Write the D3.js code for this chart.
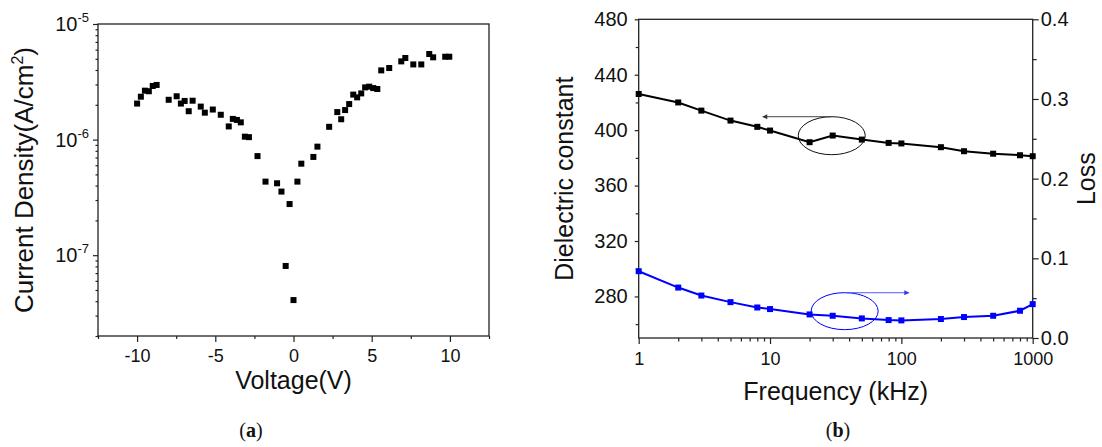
<!DOCTYPE html>
<html>
<head>
<meta charset="utf-8">
<script src="https://cdn.jsdelivr.net/npm/d3@7"></script>
<style>
  body { margin: 0; background: #fff; }
  svg text { font-family: Arial, "Liberation Sans", sans-serif; fill: #111; }
  .frame { fill: none; stroke: #222; stroke-width: 1.3; }
  .tick line { stroke: #222; stroke-width: 1.2; }
  .domain { display: none; }
</style>
</head>
<body>
<svg id="chart" width="1102" height="447"></svg>
<script>
// (a) current density vs voltage
const voltage = [-10.0, -9.76, -9.5, -9.25, -9.0, -8.75, -7.98, -7.47, -7.2, -6.96, -6.7, -6.45,
  -5.93, -5.67, -5.16, -4.65, -4.14, -3.88, -3.62, -3.37, -3.11, -2.85, -2.3, -1.79, -1.05,
  -0.77, -0.25, -0.5, 0.0, 0.25, 0.5, 1.27, 1.53, 2.28, 2.8, 3.05, 3.3, 3.56, 3.82, 4.07,
  4.33, 4.58, 4.84, 5.1, 5.36, 5.61, 6.12, 6.89, 7.15, 7.66, 8.17, 8.68, 8.93, 9.7, 9.96]
const density = [2.05e-6, 2.35e-6, 2.65e-6, 2.62e-6, 2.91e-6, 2.97e-6, 2.21e-6, 2.37e-6, 2.05e-6,
  2.16e-6, 1.76e-6, 2.17e-6, 1.93e-6, 1.71e-6, 1.82e-6, 1.64e-6, 1.30e-6, 1.51e-6, 1.48e-6,
  1.41e-6, 1.06e-6, 1.05e-6, 7.2e-7, 4.33e-7, 4.19e-7, 3.55e-7, 2.77e-7, 8.07e-8, 4.09e-8,
  4.33e-7, 6.19e-7, 7.08e-7, 8.69e-7, 1.29e-6, 1.73e-6, 1.50e-6, 1.80e-6, 2.03e-6, 2.45e-6,
  2.32e-6, 2.51e-6, 2.83e-6, 2.87e-6, 2.79e-6, 2.74e-6, 3.97e-6, 4.16e-6, 4.75e-6, 5.08e-6,
  4.47e-6, 4.47e-6, 5.5e-6, 5.15e-6, 5.21e-6, 5.21e-6]
const voltTicks = [-10, -5, 0, 5, 10]
const voltMinor = [-12.5, -7.5, -2.5, 2.5, 7.5, 12.5]
const densityExp = [-5, -6, -7]

// (b) dielectric constant and loss vs frequency
const freq = [1, 2, 3, 5, 8, 10, 20, 30, 50, 80, 100, 200, 300, 500, 800, 1000]
const dielectric = [426.1, 420.0, 414.1, 406.9, 402.4, 399.7, 391.3, 396.1, 393.2, 390.8,
  390.4, 387.7, 384.8, 383.0, 381.9, 381.2]
const loss = [0.0838, 0.0633, 0.0533, 0.045, 0.0383, 0.0363, 0.0296, 0.0279, 0.0246, 0.0225,
  0.0221, 0.0238, 0.0263, 0.0279, 0.0342, 0.0425]
const freqTicks = [1, 10, 100, 1000]
const dielTicks = [280, 320, 360, 400, 440, 480]
const dielMinor = [260, 300, 340, 380, 420, 460]
const lossTicks = [0, 0.1, 0.2, 0.3, 0.4]
const lossMinor = [0.05, 0.15, 0.25, 0.35]

const svg = d3.select("#chart")

// ---------- panel (a) ----------
const A = {left: 98, top: 24, right: 489, bottom: 336}
const xa = d3.scaleLinear().domain([-12.5, 12.5]).range([A.left, A.right])
const ya = d3.scaleLog().domain([2e-8, 1e-5]).range([A.bottom, A.top])

const ga = svg.append("g")

ga.append("g")
    .attr("transform", `translate(0,${A.bottom})`)
    .call(d3.axisBottom(xa).tickValues(voltMinor).tickSize(3).tickFormat(""))
ga.append("g")
    .attr("transform", `translate(0,${A.bottom})`)
    .call(d3.axisBottom(xa).tickValues(voltTicks).tickSize(6).tickPadding(7)
        .tickFormat(d => d))
    .selectAll("text").style("font-size", "18px")

const minorLog = []
for (let e = -8; e <= -6; e++) for (let m = 2; m <= 9; m++) {
    const v = m * Math.pow(10, e)
    if (v >= 2e-8 && v <= 1e-5) minorLog.push(v)
}
ga.append("g")
    .attr("transform", `translate(${A.left},0)`)
    .call(d3.axisLeft(ya).tickValues(minorLog).tickSize(2.5).tickFormat(""))
ga.append("g")
    .attr("transform", `translate(${A.left},0)`)
    .call(d3.axisLeft(ya).tickValues(densityExp.map(e => Math.pow(10, e))).tickSize(5).tickFormat(""))

const ylab = ga.selectAll(".ylab")
    .data(densityExp)
    .join("text")
    .attr("class", "ylab")
    .attr("x", A.left - 9)
    .attr("y", d => ya(Math.pow(10, d)) + 7)
    .attr("text-anchor", "end")
    .style("font-size", "20px")
ylab.append("tspan").text("10")
ylab.append("tspan").attr("dy", -9).style("font-size", "13px").text(d => d)

ga.append("rect").attr("class", "frame")
    .attr("x", A.left).attr("y", A.top)
    .attr("width", A.right - A.left).attr("height", A.bottom - A.top)

ga.selectAll(".pt")
    .data(voltage.map((v, i) => [v, density[i]]))
    .join("rect")
    .attr("class", "pt")
    .attr("x", d => xa(d[0]) - 3)
    .attr("y", d => ya(d[1]) - 3)
    .attr("width", 6).attr("height", 6)
    .attr("fill", "#000")

ga.append("text")
    .attr("x", (A.left + A.right) / 2)
    .attr("y", 389)
    .attr("text-anchor", "middle")
    .style("font-size", "25px")
    .text("Voltage(V)")

const ytitle = ga.append("text")
    .attr("transform", `translate(33,${(A.top + A.bottom) / 2}) rotate(-90)`)
    .attr("text-anchor", "middle")
    .style("font-size", "26px")
ytitle.append("tspan").text("Current Density(A/cm")
ytitle.append("tspan").attr("dy", -10).style("font-size", "16px").text("2")
ytitle.append("tspan").attr("dy", 10).text(")")

svg.append("text")
    .attr("x", 251).attr("y", 437)
    .attr("text-anchor", "middle")
    .style("font-family", "'Liberation Serif', 'DejaVu Serif', serif")
    .style("font-size", "20px")
    .html("(<tspan font-weight='bold'>a</tspan>)")

// ---------- panel (b) ----------
const B = {left: 638.7, top: 19.3, right: 1032.7, bottom: 338}
const xb = d3.scaleLog().domain([1, 1000]).range([B.left, B.right])
const yb = d3.scaleLinear().domain([250, 480]).range([B.bottom, B.top])
const yl = d3.scaleLinear().domain([0, 0.4]).range([B.bottom, B.top])

const gb = svg.append("g")

const freqMinor = []
for (let e = 0; e < 3; e++) for (let m = 2; m <= 9; m++) freqMinor.push(m * Math.pow(10, e))

gb.append("g")
    .attr("transform", `translate(0,${B.bottom})`)
    .call(d3.axisBottom(xb).tickValues(freqMinor).tickSize(3.5).tickFormat(""))
gb.append("g")
    .attr("transform", `translate(0,${B.bottom})`)
    .call(d3.axisBottom(xb).tickValues(freqTicks).tickSize(6).tickPadding(8).tickFormat(d => d))
    .selectAll("text").style("font-size", "18px")

gb.append("g")
    .attr("transform", `translate(${B.left},0)`)
    .call(d3.axisLeft(yb).tickValues(dielMinor).tickSize(3).tickFormat(""))
gb.append("g")
    .attr("transform", `translate(${B.left},0)`)
    .call(d3.axisLeft(yb).tickValues(dielTicks).tickSize(4).tickPadding(7).tickFormat(d => d))
    .selectAll("text").style("font-size", "20px")

gb.append("g")
    .attr("transform", `translate(${B.right},0)`)
    .call(d3.axisRight(yl).tickValues(lossMinor).tickSize(4).tickFormat(""))
gb.append("g")
    .attr("transform", `translate(${B.right},0)`)
    .call(d3.axisRight(yl).tickValues(lossTicks).tickSize(6).tickPadding(2).tickFormat(d3.format(".1f")))
    .selectAll("text").style("font-size", "20px")

gb.append("rect").attr("class", "frame")
    .attr("x", B.left).attr("y", B.top)
    .attr("width", B.right - B.left).attr("height", B.bottom - B.top)

function series(vals, scale, color) {
    const pts = freq.map((f, i) => [f, vals[i]])
    gb.append("path")
        .datum(pts)
        .attr("d", d3.line().x(d => xb(d[0])).y(d => scale(d[1])))
        .attr("fill", "none")
        .attr("stroke", color)
        .attr("stroke-width", 2)
    gb.append("g").selectAll("rect")
        .data(pts)
        .join("rect")
        .attr("x", d => xb(d[0]) - 3)
        .attr("y", d => scale(d[1]) - 3)
        .attr("width", 6).attr("height", 6)
        .attr("fill", color)
}
series(dielectric, yb, "#000")
series(loss, yl, "#0000ff")

// ellipses + arrows pointing to each series' axis
const defs = svg.append("defs")
function marker(id, color) {
    defs.append("marker")
        .attr("id", id)
        .attr("viewBox", "0 0 10 10")
        .attr("refX", 9).attr("refY", 5)
        .attr("markerWidth", 7).attr("markerHeight", 5)
        .attr("markerUnits", "userSpaceOnUse")
        .attr("orient", "auto")
        .append("path").attr("d", "M0,0 L10,5 L0,10 z").attr("fill", color)
}
marker("arrK", "#333")
marker("arrB", "#3333ff")

gb.append("ellipse")
    .attr("cx", xb(29.5)).attr("cy", yb(396))
    .attr("rx", 33.5).attr("ry", 19)
    .attr("fill", "none").attr("stroke", "#111").attr("stroke-width", 1)
gb.append("line")
    .attr("x1", xb(29.5)).attr("x2", xb(8.8))
    .attr("y1", yb(409.7)).attr("y2", yb(409.7))
    .attr("stroke", "#444").attr("stroke-width", 1)
    .attr("marker-end", "url(#arrK)")

gb.append("ellipse")
    .attr("cx", xb(37)).attr("cy", yl(0.0337))
    .attr("rx", 33.5).attr("ry", 18.5)
    .attr("fill", "none").attr("stroke", "#0000ff").attr("stroke-width", 1)
gb.append("line")
    .attr("x1", xb(37)).attr("x2", xb(114))
    .attr("y1", yl(0.0568)).attr("y2", yl(0.0568))
    .attr("stroke", "#5555ff").attr("stroke-width", 1)
    .attr("marker-end", "url(#arrB)")

gb.append("text")
    .attr("x", (B.left + B.right) / 2)
    .attr("y", 400)
    .attr("text-anchor", "middle")
    .style("font-size", "25px")
    .text("Frequency (kHz)")

gb.append("text")
    .attr("transform", `translate(573,${(B.top + B.bottom) / 2}) rotate(-90)`)
    .attr("text-anchor", "middle")
    .style("font-size", "25px")
    .text("Dielectric constant")

gb.append("text")
    .attr("transform", `translate(1095,${(B.top + B.bottom) / 2}) rotate(-90)`)
    .attr("text-anchor", "middle")
    .style("font-size", "25px")
    .text("Loss")

svg.append("text")
    .attr("x", 838).attr("y", 437)
    .attr("text-anchor", "middle")
    .style("font-family", "'Liberation Serif', 'DejaVu Serif', serif")
    .style("font-size", "20px")
    .html("(<tspan font-weight='bold'>b</tspan>)")
</script>
</body>
</html>
